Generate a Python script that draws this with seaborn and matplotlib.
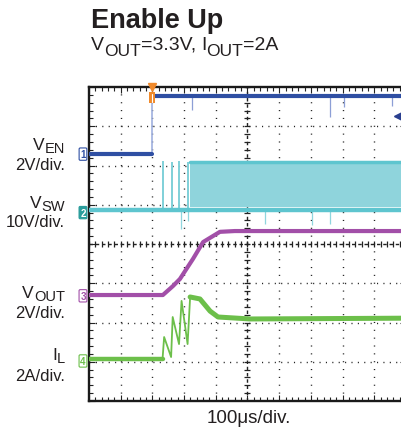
import matplotlib
matplotlib.use("Agg")
import numpy as np
import pandas as pd
import matplotlib.pyplot as plt
from matplotlib.patches import Rectangle
import seaborn as sns

# scope screen: time in divisions (100us/div), level in divisions from screen bottom
en_low_t = [0.0, 1.99]
en_low_y = [6.29, 6.29]
en_high_t = [1.99, 10.0]
en_high_y = [7.77, 7.77]
en_glitch_t = [3.24, 7.6, 8.05, 9.55]
en_glitch_y = [7.42, 7.24, 7.5, 7.52]

sw_base_t = [0.0, 10.0]
sw_base_y = [4.87, 4.87]
sw_spike_t = [2.32, 2.61, 2.85, 3.11]
sw_spike_top = [6.12, 6.10, 6.12, 6.08]
sw_dip_t = [2.89, 3.12, 5.55, 7.05, 7.6]
sw_dip_y = [4.38, 4.59, 4.5, 4.48, 4.5]
sw_band_t = [3.19, 10.0]
sw_band_lo = [4.94, 4.94]
sw_band_hi = [6.08, 6.08]

vout_t = [0.0, 2.33, 2.65, 2.87, 3.03, 3.28, 3.60, 4.13, 4.60, 10.0]
vout_y = [2.70, 2.70, 2.93, 3.11, 3.31, 3.62, 4.05, 4.31, 4.33, 4.33]

il_pre_t = [0.0, 2.32]
il_pre_y = [1.07, 1.07]
il_saw_t = [2.32, 2.37, 2.59, 2.64, 2.84, 2.92, 3.11, 3.19]
il_saw_y = [1.07, 1.63, 1.12, 2.14, 1.45, 2.55, 1.45, 2.65]
il_post_t = [3.19, 3.50, 3.82, 4.07, 5.08, 10.0]
il_post_y = [2.65, 2.60, 2.29, 2.14, 2.09, 2.11]

# (main, subscript) pairs for the channel names
labels = [("V", "EN"), ("V", "SW"), ("V", "OUT"), ("I", "L")]
scales = ["2V/div.", "10V/div.", "2V/div.", "2A/div."]
label_px = [150, 208, 298, 360]
scale_px = [170, 227, 318, 381]
ch_names = ["1", "2", "3", "4"]
ch_y = [6.29, 4.80, 2.68, 1.02]

blue = "#2f4fa3"
cyan = "#5ec5cf"
band = "#8fd4dc"
magenta = "#a24fa8"
green = "#6cbf4a"
teal = "#2a9d9c"
orange = "#f08a2c"
ink = "#231f20"

sns.set_style("white")
plt.rcParams["font.family"] = ["Liberation Sans", "DejaVu Sans"]
plt.rcParams["lines.scale_dashes"] = False

W, H = 402, 431
fig = plt.figure(figsize=(W / 100, H / 100), dpi=100)
ax = fig.add_axes([89 / W, 29 / H, 317 / W, 314 / H])
ax.set_xlim(0, 10)
ax.set_ylim(0, 8)
renderer = fig.canvas.get_renderer()


def put_text(parts, x_px, y_px, size, sub_size, drop, ha="left"):
    # parts: list of (string, is_subscript); y_px is the baseline from the top
    items = []
    for s, sub in parts:
        t = fig.text(0, 0, s, fontsize=sub_size if sub else size, va="baseline", color=ink)
        items.append((t, sub, t.get_window_extent(renderer).width))
    total = sum(w for _, _, w in items)
    x = x_px - total if ha == "right" else x_px
    for t, sub, w in items:
        t.set_position((x / W, 1 - (y_px + (drop if sub else 0)) / H))
        x += w


# graticule
for i in range(1, 10):
    if i != 5:
        ax.axvline(i, color="#222222", lw=1.0, ls=(0, (0.8, 4.85)), zorder=1)
for j in range(1, 8):
    if j != 4:
        ax.axhline(j, color="#222222", lw=1.0, ls=(0, (0.8, 3.8)), zorder=1)
ax.axvline(5, color="#222222", lw=1.0, ls=(0, (2.5, 2.0)), zorder=1)
ax.axhline(4, color="#222222", lw=1.0, ls=(0, (2.5, 2.0)), zorder=1)
ticks_x = np.arange(0, 10.01, 0.2)
ticks_y = np.arange(0, 8.01, 0.2)
ax.plot(ticks_x, np.full(len(ticks_x), 4.0), ls="none", marker="|", ms=4, mew=0.9, color="#222222", zorder=1)
ax.plot(np.full(len(ticks_y), 5.0), ticks_y, ls="none", marker="_", ms=4, mew=0.9, color="#222222", zorder=1)

# V_SW
ax.fill_between(sw_band_t, sw_band_lo, sw_band_hi, color=band, lw=0, zorder=2)
sns.lineplot(x=sw_band_t, y=sw_band_hi, ax=ax, color=cyan, lw=2.5, estimator=None, sort=False, zorder=2)
ax.vlines(sw_spike_t, sw_base_y[0], sw_spike_top, color="#7fd0d8", lw=1.4, zorder=2)
ax.vlines(sw_dip_t, sw_dip_y, sw_base_y[0], color="#8fd6de", lw=0.9, zorder=2)
sns.lineplot(x=sw_base_t, y=sw_base_y, ax=ax, color=cyan, lw=3.2, estimator=None, sort=False, zorder=3)

# V_EN
ax.vlines([en_high_t[0]], en_low_y[0], en_high_y[0], color="#9fb0df", lw=1.2, zorder=3)
ax.vlines(en_glitch_t, en_glitch_y, en_high_y[0], color="#8d9fd6", lw=0.9, zorder=3)
sns.lineplot(x=en_low_t, y=en_low_y, ax=ax, color=blue, lw=3.0, estimator=None, sort=False, zorder=4)
sns.lineplot(x=en_high_t, y=en_high_y, ax=ax, color=blue, lw=3.0, estimator=None, sort=False, zorder=4)

# V_OUT
sns.lineplot(x=vout_t, y=vout_y, ax=ax, color=magenta, lw=3.0, estimator=None, sort=False, zorder=4)

# I_L
sns.lineplot(x=il_pre_t, y=il_pre_y, ax=ax, color=green, lw=3.2, estimator=None, sort=False, zorder=4)
sns.lineplot(x=il_saw_t, y=il_saw_y, ax=ax, color=green, lw=1.3, estimator=None, sort=False, zorder=4)
sns.lineplot(x=il_post_t, y=il_post_y, ax=ax, color=green, lw=3.6, estimator=None, sort=False, zorder=4)

# trigger position and level markers
ax.plot(1.99, 8.0, marker="v", color=orange, ms=6, clip_on=False, zorder=6)
ax.add_patch(Rectangle((1.895, 7.59), 0.19, 0.28, fc=orange, ec="none", zorder=6, clip_on=False))
ax.plot([1.99, 1.99], [7.63, 7.83], color="white", lw=0.8, zorder=7)
ax.plot(9.75, 7.26, marker="<", color="#2a3f8f", ms=6, zorder=6)

# channel badges
ch_colors = [blue, teal, magenta, green]
for name, y, c in zip(ch_names, ch_y, ch_colors):
    filled = name == "2"
    ax.text(-0.19, y, name, ha="center", va="center", fontsize=7,
            color="white" if filled else c, fontweight="bold", clip_on=False,
            bbox=dict(boxstyle="round,pad=0.12", fc=c if filled else "white", ec=c, lw=0.8))

# frame
ax.set_xticks(range(11))
ax.set_yticks(range(9))
ax.set_xticks(ticks_x, minor=True)
ax.set_yticks(ticks_y, minor=True)
ax.tick_params(which="both", direction="in", top=True, right=True, bottom=True, left=True,
               labelbottom=False, labelleft=False, width=0.8, color="#222222")
ax.tick_params(which="major", length=4.5)
ax.tick_params(which="minor", length=3)
for s in ax.spines.values():
    s.set_linewidth(1.7)
    s.set_color("#1a1a1a")
ax.set_xlabel("")
ax.set_ylabel("")

# text
for (main, sub), sc, ly, sy in zip(labels, scales, label_px, scale_px):
    put_text([(main, False), (sub, True)], 65, ly, 12.5, 10.5, 3, ha="right")
    put_text([(sc, False)], 65, sy, 12, 12, 0, ha="right")

fig.text(91 / W, 1 - 28 / H, "Enable Up", fontsize=19.5, fontweight="bold", va="baseline", color=ink)
put_text([("V", False), ("OUT", True), ("=3.3V, ", False), ("I", False), ("OUT", True), ("=2A", False)],
         91, 50, 14, 12.5, 6)
fig.text(249 / W, 1 - 423 / H, "100μs/div.", fontsize=13.5, ha="center", va="baseline", color=ink)

fig.savefig("out.png", dpi=100)
